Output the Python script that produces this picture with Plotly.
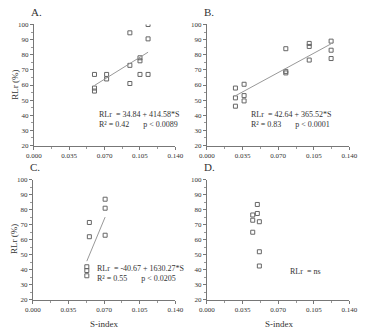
import plotly.graph_objects as go

# ---- data ----
a_x = [0.060, 0.060, 0.060, 0.072, 0.072, 0.095, 0.095, 0.095, 0.105, 0.105, 0.105, 0.113, 0.113, 0.113]
a_y = [67, 58, 56, 67, 64, 94.5, 73, 61, 78, 76, 67, 100, 90.5, 67]
b_x = [0.028, 0.028, 0.028, 0.0365, 0.0365, 0.0365, 0.0775, 0.0775, 0.0775, 0.1005, 0.1005, 0.1005, 0.122, 0.122, 0.122]
b_y = [58, 51.5, 46, 60.5, 53, 49.5, 84, 69, 68, 87.5, 85.5, 76.5, 89, 83, 77.5]
c_x = [0.053, 0.053, 0.053, 0.0555, 0.0555, 0.0710, 0.0710, 0.0710]
c_y = [42, 39.5, 36, 71.5, 62, 87, 81, 63]
d_x = [0.0495, 0.0495, 0.045, 0.045, 0.0515, 0.045, 0.0515, 0.0515]
d_y = [83.5, 77.5, 76.5, 73, 72, 65, 52, 42.5]

# regression coefficients (intercept, slope) from panel texts
a_fit = (34.84, 414.58)
b_fit = (42.64, 365.52)
c_fit = (-40.67, 1630.27)

x_ticks = [0.0, 0.035, 0.070, 0.105, 0.140]
x_ticklabels = ["0.000", "0.035", "0.070", "0.105", "0.140"]
y_ticks = [20, 30, 40, 50, 60, 70, 80, 90, 100]

panel_labels = ["A.", "B.", "C.", "D."]
eq_texts = [
    "RLr  = 34.84 + 414.58*S<br>R² = 0.42       p &lt; 0.0089",
    "RLr  = 42.64 + 365.52*S<br>R² = 0.83       p &lt; 0.0001",
    "RLr  = -40.67 + 1630.27*S<br>R² = 0.55       p &lt; 0.0205",
    "RLr  = ns",
]

W, H = 367, 335
SERIF = "Liberation Serif, Times New Roman, serif"
TXT = "#333333"

# pixel boxes of each plot area: (left, right, top, bottom)
boxes = [(27, 175, 21, 145), (208, 357, 21, 145), (26, 175, 180, 303), (208, 357, 180, 303)]

fig = go.Figure()
datasets = [(a_x, a_y, a_fit), (b_x, b_y, b_fit), (c_x, c_y, c_fit), (d_x, d_y, None)]

for i, ((xs, ys, fit), box) in enumerate(zip(datasets, boxes)):
    n = "" if i == 0 else str(i + 1)
    xa, ya = "x" + n, "y" + n
    l, r, t, b = box
    fig.add_trace(go.Scatter(
        x=xs, y=ys, mode="markers", xaxis=xa, yaxis=ya, cliponaxis=True,
        marker=dict(symbol="square-open", size=4, color="#666666", line=dict(width=1)),
        showlegend=False))
    if fit is not None:
        x0, x1 = min(xs), max(xs)
        fig.add_trace(go.Scatter(
            x=[x0, x1], y=[fit[0] + fit[1] * x0, fit[0] + fit[1] * x1],
            mode="lines", xaxis=xa, yaxis=ya,
            line=dict(color="#999999", width=1), showlegend=False))
    common = dict(showline=True, linecolor="#777777", linewidth=1, ticks="outside",
                  ticklen=3, tickcolor="#777777", showgrid=False, zeroline=False,
                  tickfont=dict(family=SERIF, size=7, color=TXT))
    fig.layout["xaxis" + n] = dict(
        domain=[l / W, r / W], anchor=ya, range=[0, 0.14],
        tickvals=x_ticks, ticktext=x_ticklabels,
        minor=dict(ticks="outside", ticklen=2, tickcolor="#999999", dtick=0.0175),
        **common)
    fig.layout["yaxis" + n] = dict(
        domain=[1 - b / H, 1 - t / H], anchor=xa, range=[20, 100],
        tickvals=y_ticks, minor=dict(ticks="outside", ticklen=2, tickcolor="#999999", dtick=5),
        **common)
    # panel letter
    fig.add_annotation(text=panel_labels[i], xref="paper", yref="paper",
                       x=(l - 5) / W, y=1 - (t - 13) / H, xanchor="left", yanchor="middle",
                       showarrow=False, font=dict(family=SERIF, size=11, color=TXT))

# equation annotations (data coords)
eq_pos = [(0.062, 37.5), (0.0415, 37.5), (0.0615, 37.5), (0.080, 39)]
for i, (txt, (ex, ey)) in enumerate(zip(eq_texts, eq_pos)):
    n = "" if i == 0 else str(i + 1)
    fig.add_annotation(text=txt, xref="x" + n, yref="y" + n, x=ex, y=ey,
                       xanchor="left", yanchor="middle", align="left", showarrow=False,
                       font=dict(family=SERIF, size=8, color=TXT))

# axis titles
for yc in [83, 241]:
    fig.add_annotation(text="RLr (%)", xref="paper", yref="paper", x=7 / W, y=1 - yc / H,
                       textangle=-90, showarrow=False, xanchor="center", yanchor="middle",
                       font=dict(family=SERIF, size=9, color=TXT))
for xc in [100, 283]:
    fig.add_annotation(text="S-index", xref="paper", yref="paper", x=xc / W, y=1 - 328 / H,
                       showarrow=False, xanchor="center", yanchor="middle",
                       font=dict(family=SERIF, size=9, color=TXT))

fig.update_layout(width=W, height=H, margin=dict(l=0, r=0, t=0, b=0),
                  paper_bgcolor="white", plot_bgcolor="white")
fig.write_html("out.html")
